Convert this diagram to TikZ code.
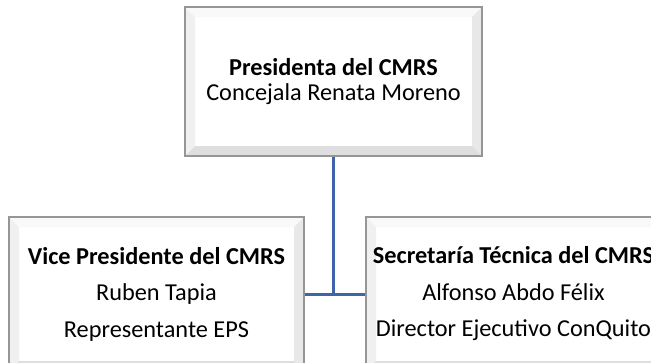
\documentclass[tikz,border=0pt]{standalone}
\usepackage{fontspec}
\setmainfont{Carlito}
\usetikzlibrary{calc}
\definecolor{linkblue}{RGB}{62,100,170}
\definecolor{edgegray}{RGB}{150,150,150}
\tikzset{
  bevelbox/.style={draw=edgegray, line width=1.4pt, fill=white, rectangle, inner sep=0pt, align=center,
    path picture={
      \coordinate (bsw) at (path picture bounding box.south west);
      \coordinate (bne) at (path picture bounding box.north east);
      \coordinate (bnw) at (bsw |- bne);
      \coordinate (bse) at (bne |- bsw);
      \fill[gray!5] (bnw) -- (bne) -- ($(bne)+(-10,-10)$) -- ($(bnw)+(10,-10)$) -- cycle;
      \fill[gray!12] (bnw) -- ($(bnw)+(10,-10)$) -- ($(bsw)+(10,10)$) -- (bsw) -- cycle;
      \fill[gray!18] (bne) -- (bse) -- ($(bse)+(-10,10)$) -- ($(bne)+(-10,-10)$) -- cycle;
      \fill[gray!26] (bsw) -- ($(bsw)+(10,10)$) -- ($(bse)+(-10,10)$) -- (bse) -- cycle;
    }},
  topfont/.style={font=\fontsize{24.3}{25}\selectfont},
  lowfont/.style={font=\fontsize{24.3}{36.5}\selectfont},
  link/.style={draw=linkblue, line width=3pt}
}
\begin{document}
\begin{tikzpicture}[x=1pt,y=1pt]
\useasboundingbox (0,0) rectangle (651,-362);
\clip (0,0) rectangle (651,-362);
\fill[white] (0,0) rectangle (651,-362);
\node[bevelbox, topfont, minimum width=297pt, minimum height=149pt] (pres) at (333.5,-81.5)
  {\textbf{Presidenta del CMRS}\\Concejala Renata Moreno};
\node[bevelbox, lowfont, minimum width=295pt, minimum height=154pt] (vice) at (156.5,-294)
  {\textbf{Vice Presidente del CMRS}\\Ruben Tapia\\Representante EPS};
\node[bevelbox, lowfont, minimum width=295pt, minimum height=154pt] (secr) at (513.5,-294)
  {\textbf{Secretaría Técnica del CMRS}\\Alfonso Abdo Félix\\Director Ejecutivo ConQuito};
\coordinate (join) at (pres.south |- vice.east);
\draw[link] (pres.south) -- (join);
\draw[link] (vice.east) -- (secr.west);
\end{tikzpicture}
\end{document}
